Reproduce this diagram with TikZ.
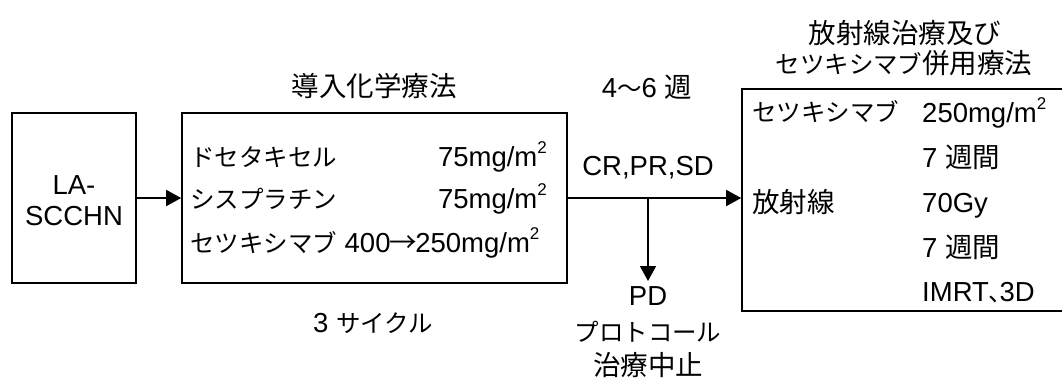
\documentclass[tikz,border=0pt]{standalone}
\usepackage{fontspec}
\setmainfont{Liberation Sans}
\newfontfamily\jp[Scale=0.89]{Noto Sans CJK JP}
\newfontfamily\jk[Scale=1.0]{Noto Sans CJK JP}
\usetikzlibrary{arrows.meta}
\newcommand\msq{\raisebox{0.45em}{\fontsize{17}{17}\selectfont 2}}
\begin{document}
\begin{tikzpicture}[x=1pt,y=-1pt,
  box/.style={draw, line width=1.6pt, inner sep=0pt},
  txt/.style={inner sep=0pt, font=\fontsize{27.5}{33}\selectfont},
  arr/.style={line width=1.6pt, -{Triangle[length=15pt,width=16pt]}}]
\useasboundingbox (0,0) rectangle (1062,381);
\clip (0,0) rectangle (1062,381);
% boxes
\node[box, minimum width=124pt, minimum height=170pt] (b1) at (74,198) {};
\node[box, minimum width=385pt, minimum height=170pt] (b2) at (374.5,198) {};
\node[box, minimum width=340pt, minimum height=222pt] (b3) at (912,200) {};
% box1 text
\node[txt, anchor=base] (t1a) at (74,194) {LA-};
\node[txt, anchor=base] (t1b) at (74,225) {SCCHN};
% box2 title and texts
\node[txt, anchor=base] (t2t) at (374,96) {\jk 導入化学療法};
\node[txt, anchor=base west] (t2a) at (190,166) {\jp ドセタキセル};
\node[txt, anchor=base east] (t2b) at (547,166) {75mg/m\msq};
\node[txt, anchor=base west] (t2c) at (190,208) {\jp シスプラチン};
\node[txt, anchor=base east] (t2d) at (547,208) {75mg/m\msq};
\node[txt, anchor=base west] (t2e) at (190,252) {{\jp セツキシマブ} 400{\jk\hspace{-0.05em}→\hspace{-0.05em}}250mg/m\msq};
\node[txt, anchor=base] (t2f) at (373,332) {3 {\jp サイクル}};
% middle labels
\node[txt, anchor=base] (tw) at (647,97) {4{\jp 〜}6 {\jk 週}};
\node[txt, anchor=base] (tr) at (648,175) {CR,PR,SD};
\node[txt, anchor=base] (tpd) at (648,305) {PD};
\node[txt, anchor=base] (tpr) at (648,341) {\jp プロトコール};
\node[txt, anchor=base] (tst) at (648,375) {\jk 治療中止};
% box3 title and texts
\node[txt, anchor=base] (t3t1) at (905,43) {\jk 放射線治療及び};
\node[txt, anchor=base] (t3t2) at (904,73) {{\jp セツキシマブ}{\jk 併用療法}};
\node[txt, anchor=base west] (t3a) at (752,121) {\jp セツキシマブ};
\node[txt, anchor=base west] (t3b) at (922,122) {250mg/m\msq};
\node[txt, anchor=base west] (t3c) at (922,167) {7 {\jk 週間}};
\node[txt, anchor=base west] (t3d) at (752,212) {\jk 放射線};
\node[txt, anchor=base west] (t3e) at (922,212) {70Gy};
\node[txt, anchor=base west] (t3f) at (922,257) {7 {\jk 週間}};
\node[txt, anchor=base west] (t3g) at (922,301) {IMRT{\jp 、}\hspace{-0.5em}3D};
% connectors
\draw[arr] (b1.east) -- (b2.west);
\draw[arr] (b2.east) -- (b2.east -| b3.west);
\coordinate (br) at (648,198);
\coordinate (pdtop) at (648,281);
\draw[arr] (br) -- (pdtop);
\end{tikzpicture}
\end{document}
